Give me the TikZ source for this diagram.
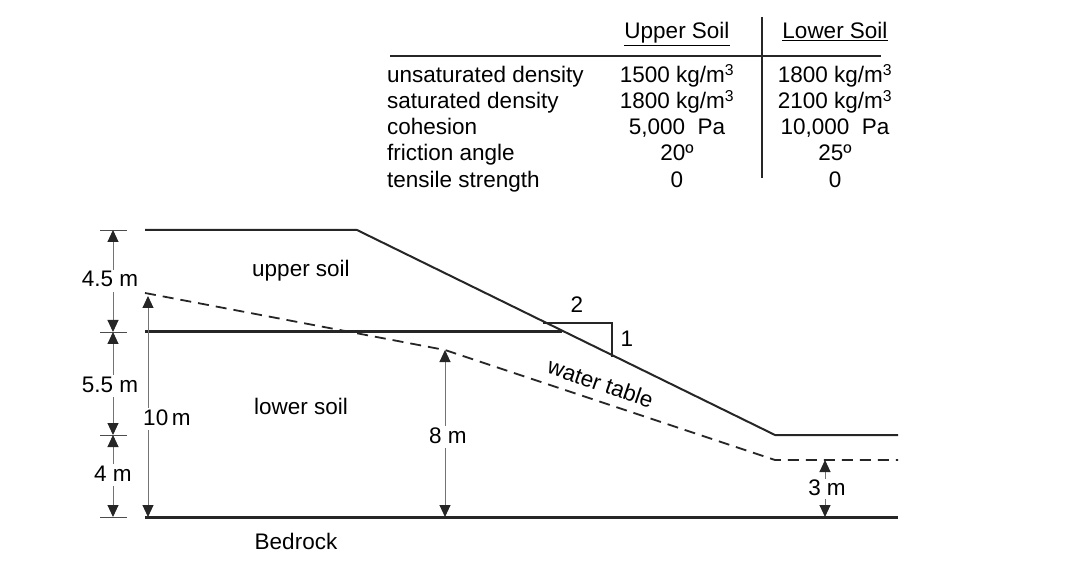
\documentclass[tikz,border=0pt]{standalone}
\usepackage{fontspec}
\setmainfont{Liberation Sans}
\usetikzlibrary{arrows.meta}
\begin{document}
\begin{tikzpicture}[x=1pt,y=-1pt,
  lbl/.style={font=\fontsize{22.5}{24}\selectfont,inner sep=1pt,text height=16pt,text depth=4pt},
  thick line/.style={line width=3pt,draw=black!85},
  ground/.style={line width=2pt,draw=black!85},
  dim/.style={draw=black!55,line width=1pt,{Triangle[length=12pt,width=11pt,fill=black!85,color=black!85]}-{Triangle[length=12pt,width=11pt,fill=black!85,color=black!85]}},
  tick/.style={draw=black!70,line width=0.8pt}]
\useasboundingbox (0,0) rectangle (1080,564);
% geometry
\coordinate (g1) at (145,230); \coordinate (g2) at (357,230);
\coordinate (g3) at (775,435); \coordinate (g4) at (898,435);
\draw[ground] (g1) -- (g2) -- (g3) -- (g4);
\coordinate (b1) at (145,332); \coordinate (b2) at (562,332);
\draw[thick line] (b1) -- (b2);
\coordinate (r1) at (145,517); \coordinate (r2) at (898,517);
\draw[thick line] (r1) -- (r2);
\coordinate (w1) at (145,293); \coordinate (w2) at (445,350);
\coordinate (w3) at (775,460); \coordinate (w4) at (898,460);
\draw[line width=1.8pt,draw=black!85,dash pattern=on 11pt off 7pt] (w1) -- (w2) -- (w3) -- (w4);
% slope triangle
\coordinate (s1) at (543,323); \coordinate (s2) at (612,323); \coordinate (s3) at (612,357);
\draw[line width=2.5pt,draw=black!85] (s1) -- (s2) -- (s3);
\node[lbl] (two) at (577,307) {2};
\node[lbl] (one) at (627,340) {1};
% labels
\node[lbl] (us) at (301,271) {upper soil};
\node[lbl] (ls) at (301,408) {lower soil};
\node[lbl] (bed) at (296,543) {Bedrock};
\node[lbl,rotate=-19] (wt) at (600,385) {water table};
% left dimensions
\foreach \y/\n in {230/t1,332/t2,435/t3,517/t4}{
  \coordinate (\n) at (113,\y);
  \draw[tick] (100,\y) -- (127,\y);}
\draw[dim] (t1) -- (t2);
\draw[dim] (t2) -- (t3);
\draw[dim] (t3) -- (t4);
\node[lbl,fill=white] (d1) at (110,281) {4.5 m};
\node[lbl,fill=white] (d2) at (110,386) {5.5 m};
\node[lbl,fill=white] (d3) at (113,475) {4 m};
\coordinate (a1) at (148,296); \coordinate (a2) at (148,517);
\draw[dim] (a1) -- (a2);
\node[lbl,fill=white] (ten) at (167,419) {10\,m};
\coordinate (e1) at (445,350); \coordinate (e2) at (445,517);
\draw[dim] (e1) -- (e2);
\node[lbl,fill=white] (eight) at (448,437) {8 m};
\coordinate (f1) at (825,460); \coordinate (f2) at (825,517);
\draw[dim] (f1) -- (f2);
\node[lbl,fill=white,inner sep=0pt] (three) at (827,489) {3 m};
% table
\coordinate (h1) at (390,56); \coordinate (h2) at (881,56);
\draw[ground] (h1) -- (h2);
\coordinate (v1) at (762,17); \coordinate (v2) at (762,178);
\draw[line width=2.5pt,draw=black!85] (v1) -- (v2);
\node[lbl] (hu) at (677,33) {\underline{Upper Soil}};
\node[lbl] (hl) at (835,33) {\underline{Lower Soil}};
\foreach \y/\a/\b/\c in {77/{unsaturated density}/{1500 kg/m\textsuperscript{3}}/{1800 kg/m\textsuperscript{3}},
  103/{saturated density}/{1800 kg/m\textsuperscript{3}}/{2100 kg/m\textsuperscript{3}},
  129/{cohesion}/{5,000 \ Pa}/{10,000 \ Pa},
  155/{friction angle}/{20º}/{25º},
  182/{tensile strength}/{0}/{0}}{
  \node[lbl,anchor=west] at (386,\y) {\a};
  \node[lbl] at (677,\y) {\b};
  \node[lbl] at (835,\y) {\c};}
\end{tikzpicture}
\end{document}
